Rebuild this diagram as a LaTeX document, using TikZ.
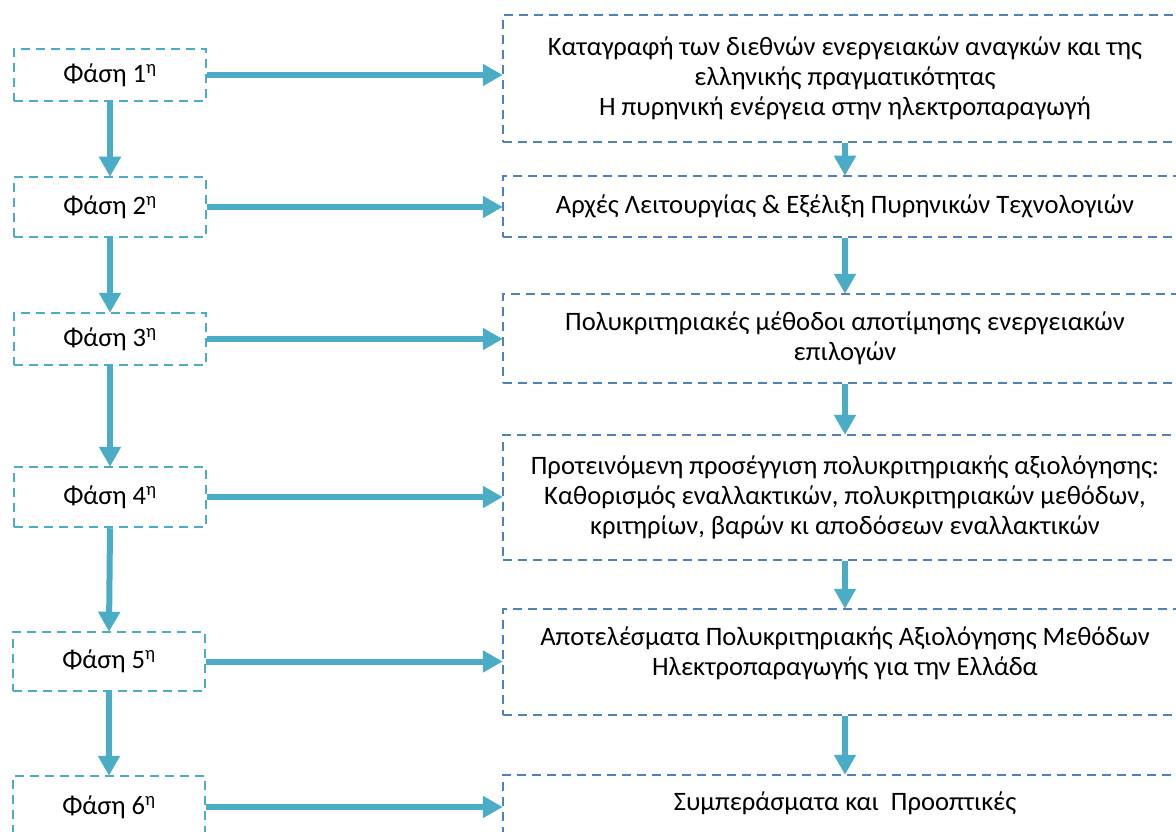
\documentclass[tikz,border=0pt]{standalone}
\usepackage{fontspec}
\setmainfont{Carlito}
\usetikzlibrary{arrows.meta}
\definecolor{aqua}{RGB}{75,172,198}
\definecolor{ofblue}{RGB}{79,129,189}
\newcommand{\bigtext}{\fontsize{26.6}{30}\selectfont}
\tikzset{
  phasebox/.style={draw=aqua, line width=2.5pt, dash pattern=on 9pt off 6pt, minimum width=192pt, inner sep=0pt, font=\bigtext},
  contentbox/.style={draw=ofblue, line width=2.5pt, dash pattern=on 9pt off 6pt, minimum width=684pt, inner sep=0pt, align=center, font=\bigtext},
  flow/.style={draw=aqua, line width=6pt, -{Triangle[length=20pt,width=21pt]}, shorten >=-1pt}
}
\begin{document}
\begin{tikzpicture}[x=1pt,y=-1pt]
\useasboundingbox (0,0) rectangle (1176,832);
\clip (0,0) rectangle (1176,832);
\fill[white] (0,0) rectangle (1176,832);
% left phase boxes
\node[phasebox, minimum height=52pt] (L1) at (110,75) {Φάση 1\textsuperscript{η}};
\node[phasebox, minimum height=60pt] (L2) at (110,207) {Φάση 2\textsuperscript{η}};
\node[phasebox, minimum height=52pt] (L3) at (110,339) {Φάση 3\textsuperscript{η}};
\node[phasebox, minimum height=60pt] (L4) at (110,497) {Φάση 4\textsuperscript{η}};
\node[phasebox, minimum height=59pt] (L5) at (109,661.5) {Φάση 5\textsuperscript{η}};
\node[phasebox, minimum height=62pt] (L6) at (109,807) {Φάση 6\textsuperscript{η}};
% right content boxes
\node[contentbox, minimum height=127pt] (R1) at (845,78.5) {Καταγραφή των διεθνών ενεργειακών αναγκών και της\\ελληνικής πραγματικότητας\\Η πυρηνική ενέργεια στην ηλεκτροπαραγωγή};
\node[contentbox, minimum height=61pt] (R2) at (845,206.5) {Αρχές Λειτουργίας \& Εξέλιξη Πυρηνικών Τεχνολογιών};
\node[contentbox, minimum height=89pt] (R3) at (845,338.5) {Πολυκριτηριακές μέθοδοι αποτίμησης ενεργειακών\\επιλογών};
\node[contentbox, minimum height=125pt] (R4) at (845,497.5) {Προτεινόμενη προσέγγιση πολυκριτηριακής αξιολόγησης:\\Καθορισμός εναλλακτικών, πολυκριτηριακών μεθόδων,\\κριτηρίων, βαρών κι αποδόσεων εναλλακτικών};
\node[contentbox, minimum height=106pt, label={[align=center, font=\bigtext, yshift=9pt]center:Αποτελέσματα Πολυκριτηριακής Αξιολόγησης Μεθόδων\\Ηλεκτροπαραγωγής για την Ελλάδα}] (R5) at (845,662) {};
\node[contentbox, minimum height=65pt, label={[font=\bigtext, yshift=4pt]center:Συμπεράσματα και\ \ Προοπτικές}] (R6) at (845,807.5) {};
% left vertical arrows
\foreach \a/\b in {L1/L2,L2/L3,L3/L4,L4/L5,L5/L6}
  \draw[flow] (\a.south) -- (\b.north);
% horizontal arrows
\foreach \i in {1,...,6}
  \draw[flow] (L\i.east) -- (L\i.east -| R\i.west);
% right vertical arrows
\foreach \a/\b in {R1/R2,R2/R3,R3/R4,R4/R5,R5/R6}
  \draw[flow] (\a.south) -- (\b.north);
\end{tikzpicture}
\end{document}
